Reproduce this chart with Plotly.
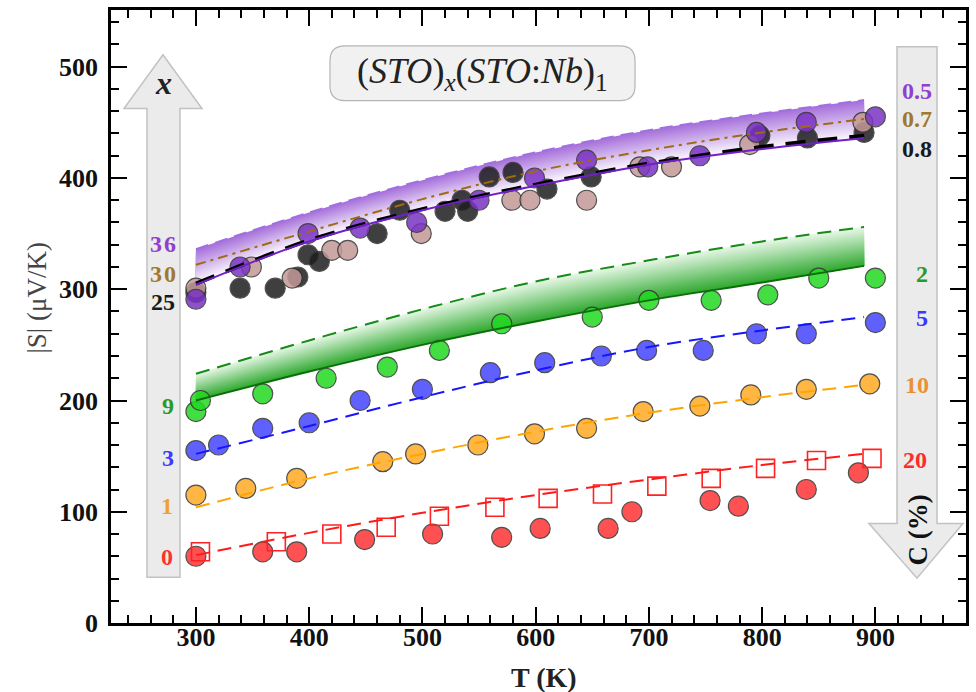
import plotly.graph_objects as go

# ---------------- data ----------------
T_fit = [300, 400, 500, 600, 700, 800, 890]
red_fit = [61, 81, 99, 115, 129, 142, 152]
orange_fit = [104, 130, 152, 172, 189, 203, 214]
blue_fit = [152, 177, 203, 227, 248, 263, 275]
green_lo = [200, 226, 250, 271, 290, 306, 321]
green_hi = [224, 254, 282, 307, 326, 343, 356]
purple_hi = [336, 369, 398, 423, 443, 458, 470]
brown_fit = [322, 352, 381, 406, 425, 441, 453]
black_fit = [305, 344, 372, 394, 413, 428, 438]
purple_lo = [304, 343, 371, 393, 412, 426, 436]

red_T = [300, 359, 389, 449, 509, 570, 604, 664, 685, 754, 779, 839, 885]
red_S = [60, 64, 64, 75, 80, 77, 85, 85, 100, 110, 105, 120, 135]
redsq_T = [304, 371, 420, 468, 515, 564, 611, 659, 707, 755, 803, 848, 897]
redsq_S = [64, 73, 80, 86, 96, 104, 112, 116, 123, 130, 139, 146, 148]
orange_T = [300, 344, 389, 465, 494, 549, 599, 645, 695, 745, 790, 839, 895]
orange_S = [115, 121, 130, 145, 152, 160, 170, 175, 190, 195, 205, 210, 215]
blue_T = [300, 320, 359, 400, 445, 500, 560, 608, 658, 698, 748, 795, 839, 900]
blue_S = [155, 160, 175, 180, 200, 210, 225, 234, 240, 245, 245, 260, 260, 270]
green_T = [300, 304, 359, 415, 469, 515, 570, 650, 700, 755, 805, 850, 900]
green_S = [190, 200, 206, 220, 230, 245, 269, 275, 290, 290, 295, 310, 310]
purple_T = [300, 339, 399, 445, 495, 550, 599, 645, 699, 745, 795, 839, 900]
purple_S = [291, 320, 350, 355, 360, 380, 400, 416, 410, 420, 441, 450, 455]
pink_T = [300, 349, 385, 420, 434, 499, 579, 595, 645, 692, 720, 789, 889]
pink_S = [301, 320, 310, 335, 335, 350, 380, 380, 380, 410, 410, 430, 450]
black_T = [300, 339, 370, 390, 399, 409, 460, 480, 520, 535, 540, 559, 580, 610, 649, 798, 840, 890]
black_S = [297, 301, 301, 311, 331, 325, 350, 371, 370, 380, 370, 401, 405, 390, 401, 438, 436, 441]

left_labels = ["3\u200a6", "3\u200a0", "25", "9", "3", "1", "0"]
right_labels = ["0.5", "0.7", "0.8", "2", "5", "10", "20"]

# ---------------- styling ----------------
SERIF = "Liberation Serif"
W, H = 976, 692
L, R, TOP, B = 111, 10, 7, 69
PW, PH = W - L - R, H - TOP - B


def X(px):
    return (px - L) / PW


def Y(py):
    return (H - B - py) / PH


fig = go.Figure()


def band(lo, hi, c_lo, c_hi, n=24):
    # painter's gradient: each layer spans lo..b_k, drawn from widest to narrowest
    for k in range(n, 0, -1):
        f = k / n
        fm = (k - 0.5) / n
        yk = [a + (b - a) * f for a, b in zip(lo, hi)]
        col = tuple(int(round(c_lo[i] + (c_hi[i] - c_lo[i]) * fm)) for i in range(3))
        fig.add_trace(go.Scatter(x=T_fit, y=lo, mode="lines", line=dict(width=0, shape="spline"),
                                 hoverinfo="skip", showlegend=False))
        fig.add_trace(go.Scatter(x=T_fit, y=yk, mode="lines", line=dict(width=0, shape="spline"),
                                 fill="tonexty", fillcolor="rgb(%d,%d,%d)" % col,
                                 hoverinfo="skip", showlegend=False))


band(green_lo, green_hi, (45, 168, 45), (232, 248, 232))
band(purple_lo, purple_hi, (252, 249, 254), (165, 110, 218))


def markers(xs, ys, color, symbol="circle", size=20, lc="#333333", lw=1.2, opacity=0.85):
    fig.add_trace(go.Scatter(x=xs, y=ys, mode="markers",
                             marker=dict(symbol=symbol, size=size, color=color, opacity=opacity,
                                         line=dict(color=lc, width=lw)),
                             showlegend=False))


markers(black_T, black_S, "#1e1e1e")
markers(pink_T, pink_S, "#c39a96")
markers(purple_T, purple_S, "#7b33c4")
markers(green_T, green_S, "#22d922")
markers(blue_T, blue_S, "#4545ff")
markers(orange_T, orange_S, "#ffaa22")
markers(red_T, red_S, "#ff3333")
markers(redsq_T, redsq_S, "#ff2222", symbol="square-open", size=18, lc="#ff2222", lw=1.6, opacity=1)


def line(ys, color, width=2, dash="14px,8px"):
    fig.add_trace(go.Scatter(x=T_fit, y=ys, mode="lines",
                             line=dict(color=color, width=width, dash=dash, shape="spline"),
                             hoverinfo="skip", showlegend=False))


line(red_fit, "#ff1a1a", 2)
line(orange_fit, "#ffa500", 2)
line(blue_fit, "#1515ff", 2)
line(green_hi, "#178a17", 2)
line(green_lo, "#0b6e0b", 2, "solid")
line(purple_hi, "#a070e0", 2, "13px,7px")
line(brown_fit, "#a06a10", 2, "10px,5px,3px,5px")
line(black_fit, "#000000", 4, "20px,12px")
line(purple_lo, "#7020c8", 2, "solid")


# ---------------- shapes ----------------
def poly(pts):
    s = "M %.4f,%.4f " % (X(pts[0][0]), Y(pts[0][1]))
    for p in pts[1:]:
        s += "L %.4f,%.4f " % (X(p[0]), Y(p[1]))
    return s + "Z"


left_arrow = [(147, 577), (147, 106), (124, 106), (163, 52), (202, 106), (180, 106), (180, 577)]
right_arrow = [(897, 44), (937, 44), (937, 523), (963, 523), (917, 578), (869, 523), (897, 523)]
for pts in (left_arrow, right_arrow):
    fig.add_shape(type="path", path=poly(pts), xref="paper", yref="paper",
                  fillcolor="#ebebeb", line=dict(color="#c2c2c2", width=1.5), layer="below")


def rrect(x0, y0, x1, y1, r):
    def P(px, py):
        return "%.4f,%.4f" % (X(px), Y(py))
    return ("M " + P(x0 + r, y0) + " L " + P(x1 - r, y0) + " Q " + P(x1, y0) + " " + P(x1, y0 + r) +
            " L " + P(x1, y1 - r) + " Q " + P(x1, y1) + " " + P(x1 - r, y1) +
            " L " + P(x0 + r, y1) + " Q " + P(x0, y1) + " " + P(x0, y1 - r) +
            " L " + P(x0, y0 + r) + " Q " + P(x0, y0) + " " + P(x0 + r, y0) + " Z")


fig.add_shape(type="path", path=rrect(330, 43, 635, 98, 15), xref="paper", yref="paper",
              fillcolor="#f1f1f1", line=dict(color="#b5b5b5", width=1.2), layer="above")


# ---------------- text ----------------
def text(s, px, py, color="#111", size=22, bold=True, italic=False, angle=0):
    fig.add_annotation(x=X(px), y=Y(py), xref="paper", yref="paper", text=s, showarrow=False,
                       textangle=angle, xanchor="center", yanchor="middle",
                       font=dict(family=SERIF, size=size, color=color,
                                 weight="bold" if bold else "normal",
                                 style="italic" if italic else "normal"))


text("(<i>STO</i>)<sub><i>x</i></sub>(<i>STO</i>:<i>Nb</i>)<sub>1</sub>", 482, 71,
     color="#222", size=36, bold=False)
text("x", 163, 80, color="#222", size=32, bold=True, italic=True)
text("C (%)", 918, 530, color="#111", size=27, bold=True, angle=-90)

left_pos = [(163, 242), (163, 272), (163, 300), (168, 405), (168, 457), (167, 505), (167, 557)]
right_pos = [(917, 88), (917, 117), (917, 147), (922, 272), (922, 317), (917, 384), (915, 459)]
left_cols = ["#9040d0", "#a07830", "#1a1a1a", "#2a9a2a", "#3a3aff", "#f0a030", "#ff3030"]
right_cols = ["#9040d0", "#a07830", "#1a1a1a", "#2a9a2a", "#3a3aff", "#e8903a", "#ff2a2a"]
for s, p, c in zip(left_labels, left_pos, left_cols):
    text(s, p[0], p[1], color=c, size=24)
for s, p, c in zip(right_labels, right_pos, right_cols):
    text(s, p[0], p[1], color=c, size=24)

text("|S| (μV/K)", 37, 296, color="#444", size=27, bold=False, angle=-90)
text("T (K)", 544, 678, color="#222", size=28, bold=True)

axis_common = dict(showline=True, linecolor="black", linewidth=2.5, mirror="allticks",
                   ticks="inside", ticklen=16, tickwidth=2, tickcolor="black",
                   showgrid=False, zeroline=False,
                   tickfont=dict(family=SERIF, size=26, color="#111", weight="bold"))

fig.update_layout(
    width=W, height=H,
    margin=dict(l=L, r=R, t=TOP, b=B),
    paper_bgcolor="white", plot_bgcolor="white",
    showlegend=False,
    xaxis=dict(range=[225, 980], tick0=0, dtick=100, ticklabelstandoff=-11,
               minor=dict(dtick=20, ticks="inside", ticklen=8, tickwidth=2, tickcolor="black"),
               **axis_common),
    yaxis=dict(range=[0, 551], tick0=0, dtick=100, ticklabelstandoff=5,
               minor=dict(dtick=20, ticks="inside", ticklen=8, tickwidth=2, tickcolor="black"),
               **axis_common),
)

fig.write_html("out.html")
